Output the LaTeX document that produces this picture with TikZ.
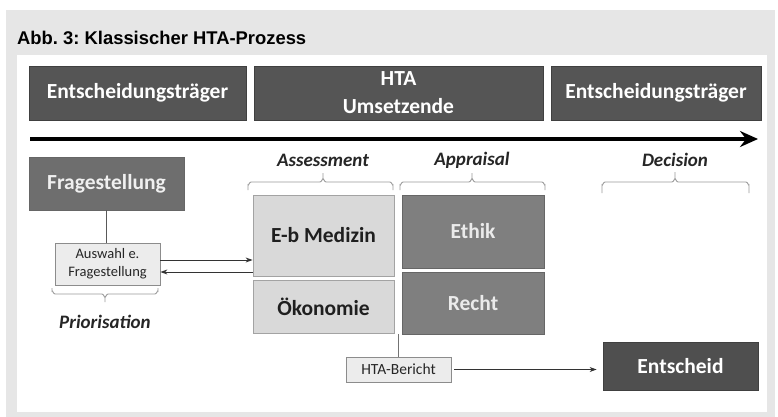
\documentclass[tikz,border=0pt]{standalone}
\usepackage{fontspec}
\setmainfont{Carlito}
\newfontfamily\titlefont{Liberation Sans}
\usetikzlibrary{arrows.meta}
\frenchspacing
\definecolor{bggrey}{HTML}{E6E6E6}
\definecolor{topdark}{HTML}{555555}
\definecolor{fragegrey}{HTML}{6E6E6E}
\definecolor{apprgrey}{HTML}{7F7F7F}
\definecolor{assgrey}{HTML}{D9D9D9}
\definecolor{smallgrey}{HTML}{ECECEC}
\definecolor{entdark}{HTML}{4F4F4F}
\definecolor{bracegrey}{HTML}{9A9A9A}
\definecolor{edgegrey}{HTML}{8C8C8C}
\tikzset{
  bigfont/.style={font=\bfseries\fontsize{21.5}{27}\selectfont},
  basebox/.style={draw=#1, line width=0.8pt, inner sep=0pt, align=center},
  darkbox/.style={basebox=black!75, fill=topdark, text=white, bigfont},
  fragebox/.style={basebox=black!60, fill=fragegrey, text=white!94!black, bigfont},
  apprbox/.style={basebox=black!60, fill=apprgrey, text=white!92!black, bigfont},
  assbox/.style={basebox=edgegrey!80, fill=assgrey, text=black!88, bigfont},
  smallbox/.style={basebox=edgegrey, fill=smallgrey, text=black!85, font=\fontsize{14.5}{18}\selectfont},
  phaselabel/.style={font=\bfseries\itshape\fontsize{19}{22}\selectfont, text=black!85},
  bracket/.style={draw=bracegrey, line width=0.9pt},
  conn/.style={draw=black!80, line width=0.9pt},
  connarrow/.style={conn, -{Stealth[length=7pt,width=5pt]}},
}
\begin{document}
\begin{tikzpicture}[x=1pt,y=-1pt]
\useasboundingbox (0,0) rectangle (778,417);
\fill[bggrey] (6,10) rectangle (775,417);
\fill[white] (17,55) rectangle (767,412);

\node[anchor=base west, inner xsep=0pt, font=\titlefont\bfseries\fontsize{18.4}{20}\selectfont] (title) at (17,45) {Abb. 3: Klassischer HTA-Prozess};

% top row
\node[darkbox, minimum width=217pt, minimum height=54pt] (dm1) at (137.5,93) {Entscheidungsträger};
\node[darkbox, minimum width=289pt, minimum height=54pt, font=\bfseries\fontsize{21.5}{28}\selectfont] (hta) at (398.5,93) {HTA\\Umsetzende};
\node[darkbox, minimum width=210pt, minimum height=54pt] (dm2) at (656,93) {Entscheidungsträger};

% timeline arrow
\coordinate (t0) at (30,139);
\coordinate (t1) at (758,139);
\draw[line width=4pt, -{Stealth[length=18pt,width=16pt,inset=6pt]}] (t0) -- (t1);

% phase labels
\node[phaselabel] (ass) at (323,160) {Assessment};
\node[phaselabel] (appr) at (472,160) {Appraisal};
\node[phaselabel] (dec) at (675,160) {Decision};
\node[phaselabel] (prio) at (105,322) {Priorisation};

% brackets
\draw[bracket] (248,190) -- (248,185) to[out=-90,in=180] (251,182) -- (320,182) to[out=0,in=90] (323,179) -- (323,173)
               (323,179) to[out=90,in=180] (326,182) -- (390,182) to[out=0,in=-90] (393,185) -- (393,190);
\draw[bracket] (400,190) -- (400,185) to[out=-90,in=180] (403,182) -- (469,182) to[out=0,in=90] (472,179) -- (472,173)
               (472,179) to[out=90,in=180] (475,182) -- (542,182) to[out=0,in=-90] (545,185) -- (545,190);
\draw[bracket] (602,193) -- (602,185) to[out=-90,in=180] (605,182) -- (672,182) to[out=0,in=90] (675,179) -- (675,172)
               (675,179) to[out=90,in=180] (678,182) -- (746,182) to[out=0,in=-90] (749,185) -- (749,193);
\draw[bracket] (52,288) -- (52,291) to[out=90,in=180] (55,294) -- (102,294) to[out=0,in=-90] (105,297) -- (105,302)
               (105,297) to[out=-90,in=180] (108,294) -- (155,294) to[out=0,in=90] (158,291) -- (158,288);

% left column
\node[fragebox, minimum width=155pt, minimum height=53pt] (frage) at (106.5,183.5) {Fragestellung};
\node[smallbox, minimum width=105pt, minimum height=42pt] (auswahl) at (107.5,264) {Auswahl e.\\Fragestellung};
\draw[conn, draw=black!65] (frage.south) -- (frage.south |- auswahl.north);

% assessment / appraisal boxes
\node[assbox, minimum width=141pt, minimum height=81pt] (medizin) at (323.5,235.5) {E-b Medizin};
\node[assbox, minimum width=141pt, minimum height=53pt] (oeko) at (323.5,306.5) {Ökonomie};
\node[apprbox, minimum width=142pt, minimum height=73pt] (ethik) at (473,231.5) {Ethik};
\node[apprbox, minimum width=142pt, minimum height=62pt] (recht) at (473,303) {Recht};

\draw[connarrow] ([yshift=4pt]auswahl.east) -- ([yshift=4pt]auswahl.east -| medizin.west);
\draw[connarrow] ([yshift=-8pt]auswahl.east -| medizin.west) -- ([yshift=-8pt]auswahl.east);

% report and decision
\node[smallbox, font=\fontsize{15.5}{18}\selectfont, minimum width=105pt, minimum height=25pt] (bericht) at (398.5,369.5) {HTA-Bericht};
\node[darkbox, fill=entdark, minimum width=155pt, minimum height=48pt] (entscheid) at (680.5,366) {Entscheid};
\draw[conn, draw=black!55] (bericht.north) -- (bericht.north |- recht.south);
\draw[connarrow, shorten <=3pt, shorten >=6pt] (bericht.east) -- (bericht.east -| entscheid.west);
\end{tikzpicture}
\end{document}
